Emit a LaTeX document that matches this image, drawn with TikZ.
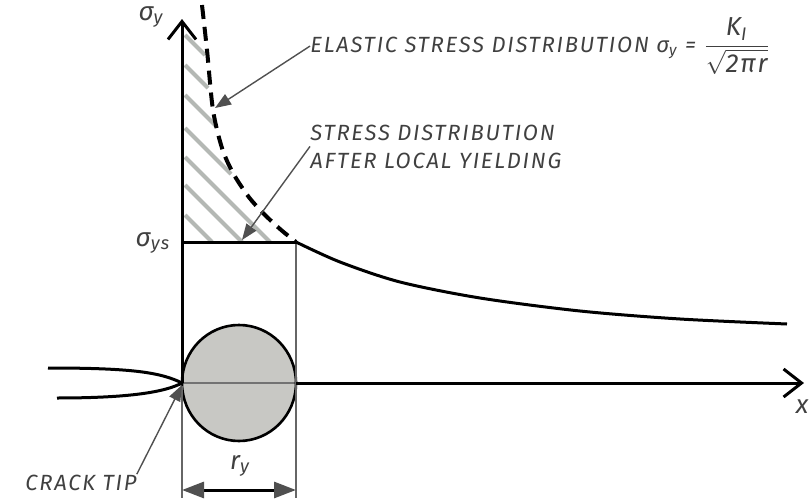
\documentclass[tikz,border=0pt]{standalone}
\usepackage{amsmath}
\usepackage{fontspec}
\setmainfont{Fira Sans}[LetterSpace=8]
\usetikzlibrary{arrows.meta,positioning,calc}
\definecolor{inkGrey}{RGB}{64,64,64}
\definecolor{hatchGrey}{RGB}{180,184,180}
\definecolor{zoneGrey}{RGB}{200,200,196}
\definecolor{leadGrey}{RGB}{80,80,80}
\newcommand{\sig}[1]{σ\textsubscript{#1}}
\tikzset{
  lbl/.style={text=inkGrey,font=\itshape\fontsize{11}{14}\selectfont,inner sep=0pt},
  biglbl/.style={lbl,font=\itshape\fontsize{13}{15}\selectfont},
  leader/.style={leadGrey,line width=0.7pt,-{Triangle[length=8pt,width=6pt]}},
  axisline/.style={line width=1.5pt,-{Straight Barb[length=9pt,width=14pt]}},
  heavy/.style={line width=1.5pt},
}

\begin{document}
\begin{tikzpicture}[x=0.5pt,y=-0.5pt]
  \useasboundingbox (0,0) rectangle (811,504);
  % key points
  \coordinate (O) at (182,383);
  \coordinate (ytop) at (182,19);
  \coordinate (R) at (296,383);
  \coordinate (xend) at (804,383);
  \coordinate (ys) at (182,242);
  \coordinate (Y) at (296,242);
  % hatched region under the elastic curve
  \foreach \ya/\xb/\yb in {35/205/55, 65/208/88, 95/216/126, 128/231/174,
                           157/270/242, 185/242/242, 215/212/242}
    \draw[hatchGrey,line width=2pt] (185,\ya) -- (\xb,\yb);
  % plastic zone
  \fill[zoneGrey] (239,383) ellipse [x radius=57,y radius=58];
  \draw[black!55,line width=1pt] (O) -- (R);
  \draw[line width=1.3pt] (239,383) ellipse [x radius=57,y radius=58];
  % extension lines
  \draw[black!60,line width=0.6pt] (182,386) -- (182,498);
  \draw[black!60,line width=0.6pt] (Y) -- (296,498);
  % axes
  \draw[axisline] (O) -- (ytop);
  \draw[axisline] (R) -- (xend);
  \draw[heavy] (ys) -- (Y);
  % crack faces
  \draw[line width=1.5pt] (48,368) .. controls (130,368) and (160,372) .. (O);
  \draw[line width=1.5pt] (57,398) .. controls (130,398) and (165,392) .. (O);
  % stress curves
  \draw[line width=2pt,dash pattern=on 7pt off 4pt]
    plot[smooth] coordinates {(202,5) (207,50) (213,110) (222,148) (233,173)
                              (248,196) (263,213) (280,229) (296,242)};
  \draw[heavy] plot[smooth] coordinates {(Y) (340,262) (400,282) (480,298)
                                         (580,311) (680,319) (787,324)};
  % labels
  \node[biglbl] (sy) at (151,17) {\sig{y}};
  \node[biglbl] (sys) at (153,243) {\sig{ys}};
  \node[biglbl] (xlab) at (802,407) {x};
  \node[lbl,anchor=base west] (elastic) at (310,52)
    {ELASTIC STRESS DISTRIBUTION \sig{y} =
     {\fontsize{13}{15}\selectfont$\dfrac{\textit{K}_{\textit{I}}}{\sqrt{\textit{2πr}}}$}};
  \node[lbl,anchor=base west,align=left] (yield) at (310,168)
    {STRESS DISTRIBUTION\\AFTER LOCAL YIELDING};
  \node[lbl,anchor=base west] (tip) at (25,490) {CRACK TIP};
  \node[biglbl] (ry) at (240,466) {r\textsubscript{y}};
  % leaders
  \coordinate (elasticTip) at (215,108);
  \coordinate (yieldTip) at (242,240);
  \coordinate (crackTip) at (182,385);
  \draw[leader] (elastic.west) -- (elasticTip);
  \draw[leader] (yield.west) -- (yieldTip);
  \draw[leader] (tip.north east) -- (crackTip);
  % plastic zone size
  \coordinate (dimL) at (182,490);
  \coordinate (dimR) at (296,490);
  \draw[heavy,{Triangle[length=11pt,width=8pt,color=leadGrey]}-{Triangle[length=11pt,width=8pt,color=leadGrey]}]
    (dimL) -- (dimR);
\end{tikzpicture}
\end{document}
